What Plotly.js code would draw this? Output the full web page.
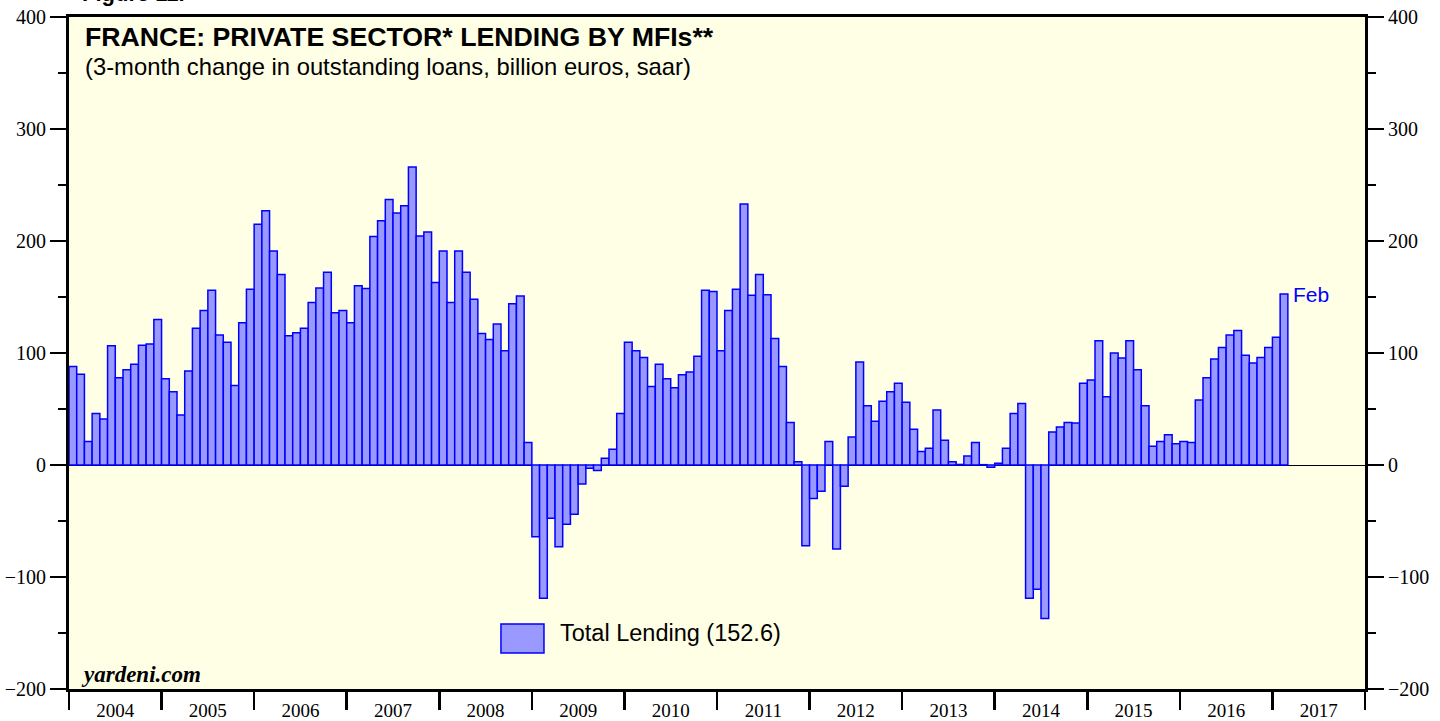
<!DOCTYPE html>
<html>
<head>
<meta charset="utf-8">
<script src="https://cdn.plot.ly/plotly-3.0.1.min.js"></script>
<style>
  html, body { margin: 0; padding: 0; background: #ffffff; }
  #chart { width: 1440px; height: 721px; }
</style>
</head>
<body>
<div id="chart"></div>
<script>
// Monthly 3-month change in outstanding loans (billion euros, saar)
const years = [2004, 2005, 2006, 2007, 2008, 2009, 2010, 2011, 2012, 2013, 2014, 2015, 2016, 2017];
const lending2004 = [88, 81, 21, 46, 41, 106.5, 78, 85, 90, 107, 108, 130];
const lending2005 = [77, 65.5, 44.6, 84, 122, 138, 156, 116, 109.5, 71, 127, 157];
const lending2006 = [215, 227, 191, 170, 115.5, 118, 122, 145, 158, 172, 136, 138];
const lending2007 = [127, 160, 157.5, 204, 218, 237, 225, 231.5, 266, 204.5, 208, 163];
const lending2008 = [191, 145, 191, 172, 148, 117.5, 112, 126, 102, 144, 151, 20];
const lending2009 = [-64, -119, -47.6, -73, -53, -44, -17, -3, -5, 6, 14, 46];
const lending2010 = [109.5, 102, 96, 70, 90, 77, 69, 80.6, 83, 97, 156, 155];
const lending2011 = [102, 138, 157, 233, 151.5, 170, 152, 113, 88, 38, 3, -72];
const lending2012 = [-30, -23.5, 21, -75, -19, 25, 92, 53, 39, 57, 65.5, 73];
const lending2013 = [56, 32, 12, 15, 49, 22, 3, 0.5, 8, 20, 0.3, -2];
const lending2014 = [1.5, 15, 46, 55, -119, -111, -137, 29.5, 34, 38, 37.5, 73];
const lending2015 = [76, 111, 61, 100, 95.5, 111, 85, 53, 16.7, 21, 27, 19];
const lending2016 = [21, 20, 58, 78, 94.6, 105, 116, 120, 98, 91, 96, 105];
const lending2017 = [114, 152.6];
const lendingByYear = [lending2004, lending2005, lending2006, lending2007, lending2008, lending2009,
  lending2010, lending2011, lending2012, lending2013, lending2014, lending2015, lending2016, lending2017];

const yTicks = [-200, -100, 0, 100, 200, 300, 400];
const yearBoundaries = [2004, 2005, 2006, 2007, 2008, 2009, 2010, 2011, 2012, 2013, 2014, 2015, 2016, 2017, 2018];
const yearLabels = ['2004', '2005', '2006', '2007', '2008', '2009', '2010', '2011', '2012', '2013', '2014', '2015', '2016', '2017'];
const seriesName = 'Total Lending';
const lastMonthLabel = 'Feb';

// build monthly x positions (fractional years, bar centered in its month)
const xs = [], ys = [];
lendingByYear.forEach((arr, k) => {
  arr.forEach((v, m) => {
    xs.push(years[k] + (m + 0.5) / 12);
    ys.push(v);
  });
});
const lastX = xs[xs.length - 1];
const lastY = ys[ys.length - 1];
const yearMids = years.map(y => y + 0.5);

const barFill = '#9999FF';
const barLine = '#0000FF';

const traces = [
  {
    type: 'bar',
    x: xs,
    y: ys,
    width: 1 / 12,
    marker: { color: barFill, line: { color: barLine, width: 1.5 } },
    name: seriesName,
    showlegend: false,
    hoverinfo: 'x+y'
  },
  {
    type: 'scatter', mode: 'markers', x: [], y: [], yaxis: 'y2',
    showlegend: false, hoverinfo: 'skip'
  }
];

const serif = 'Liberation Serif, Times New Roman, serif';
const sans = 'Liberation Sans, Arial, Helvetica, sans-serif';

const yAxisCommon = {
  range: [-200, 400],
  tickmode: 'array',
  tickvals: yTicks,
  ticks: 'outside',
  ticklen: 16,
  tickwidth: 1.5,
  tickcolor: '#000',
  minor: { dtick: 50, tick0: 0, ticks: 'outside', ticklen: 8, tickwidth: 1.5, tickcolor: '#000', showgrid: false },
  tickfont: { family: serif, size: 20, color: '#000' },
  showgrid: false,
  showline: true,
  linewidth: 3,
  linecolor: '#000',
  fixedrange: true
};

const layout = {
  width: 1440,
  height: 721,
  margin: { l: 69, r: 75, t: 17, b: 32 },
  paper_bgcolor: '#ffffff',
  plot_bgcolor: '#FFFFE6',
  showlegend: false,
  bargap: 0,
  xaxis: {
    range: [2004, 2018],
    tickmode: 'array',
    tickvals: yearMids,
    ticktext: yearLabels,
    ticks: 'outside',
    ticklen: 2,
    tickwidth: 1,
    tickcolor: 'rgba(0,0,0,0)',
    minor: {
      tickmode: 'array', tickvals: yearBoundaries,
      ticks: 'outside', ticklen: 18, tickwidth: 2.5, tickcolor: '#000', showgrid: false
    },
    tickfont: { family: serif, size: 19, color: '#000' },
    showgrid: false,
    zeroline: false,
    showline: true,
    linewidth: 3,
    linecolor: '#000',
    mirror: true,
    fixedrange: true
  },
  yaxis: Object.assign({}, yAxisCommon, {
    side: 'left',
    zeroline: true,
    zerolinecolor: '#000',
    zerolinewidth: 1
  }),
  yaxis2: Object.assign({}, yAxisCommon, {
    side: 'right',
    overlaying: 'y',
    zeroline: false
  }),
  shapes: [
    {
      type: 'rect', xref: 'paper', yref: 'paper',
      x0: 0.3333, x1: 0.3665, y0: 0.0536, y1: 0.0967,
      fillcolor: barFill, line: { color: barLine, width: 1.5 }
    }
  ],
  annotations: [
    {
      xref: 'paper', yref: 'paper', x: 0.0085, y: 1.035, xanchor: 'left', yanchor: 'middle',
      text: '<b>Figure 11.</b>', showarrow: false,
      font: { family: sans, size: 22, color: '#000' }
    },
    {
      xref: 'paper', yref: 'paper', x: 0.0105, y: 0.970, xanchor: 'left', yanchor: 'middle',
      text: '<b>FRANCE: PRIVATE SECTOR* LENDING BY MFIs**</b>', showarrow: false,
      font: { family: sans, size: 26.7, color: '#000' }
    },
    {
      xref: 'paper', yref: 'paper', x: 0.0105, y: 0.9256, xanchor: 'left', yanchor: 'middle',
      text: '(3-month change in outstanding loans, billion euros, saar)', showarrow: false,
      font: { family: sans, size: 23.8, color: '#000' }
    },
    {
      xref: 'paper', yref: 'paper', x: 0.3773, y: 0.0835, xanchor: 'left', yanchor: 'middle',
      text: seriesName + ' (' + lastY.toFixed(1) + ')', showarrow: false,
      font: { family: sans, size: 23.5, color: '#000' }
    },
    {
      xref: 'paper', yref: 'paper', x: 0.0075, y: 0.021, xanchor: 'left', yanchor: 'middle',
      text: '<b><i>yardeni.com</i></b>', showarrow: false,
      font: { family: serif, size: 23, color: '#000' }
    },
    {
      xref: 'x', yref: 'y', x: lastX, y: lastY, xanchor: 'left', yanchor: 'middle',
      xshift: 7, text: lastMonthLabel, showarrow: false,
      font: { family: sans, size: 21, color: '#0000FF' }
    }
  ]
};

Plotly.newPlot('chart', traces, layout, { displayModeBar: false, staticPlot: true });
</script>
</body>
</html>
